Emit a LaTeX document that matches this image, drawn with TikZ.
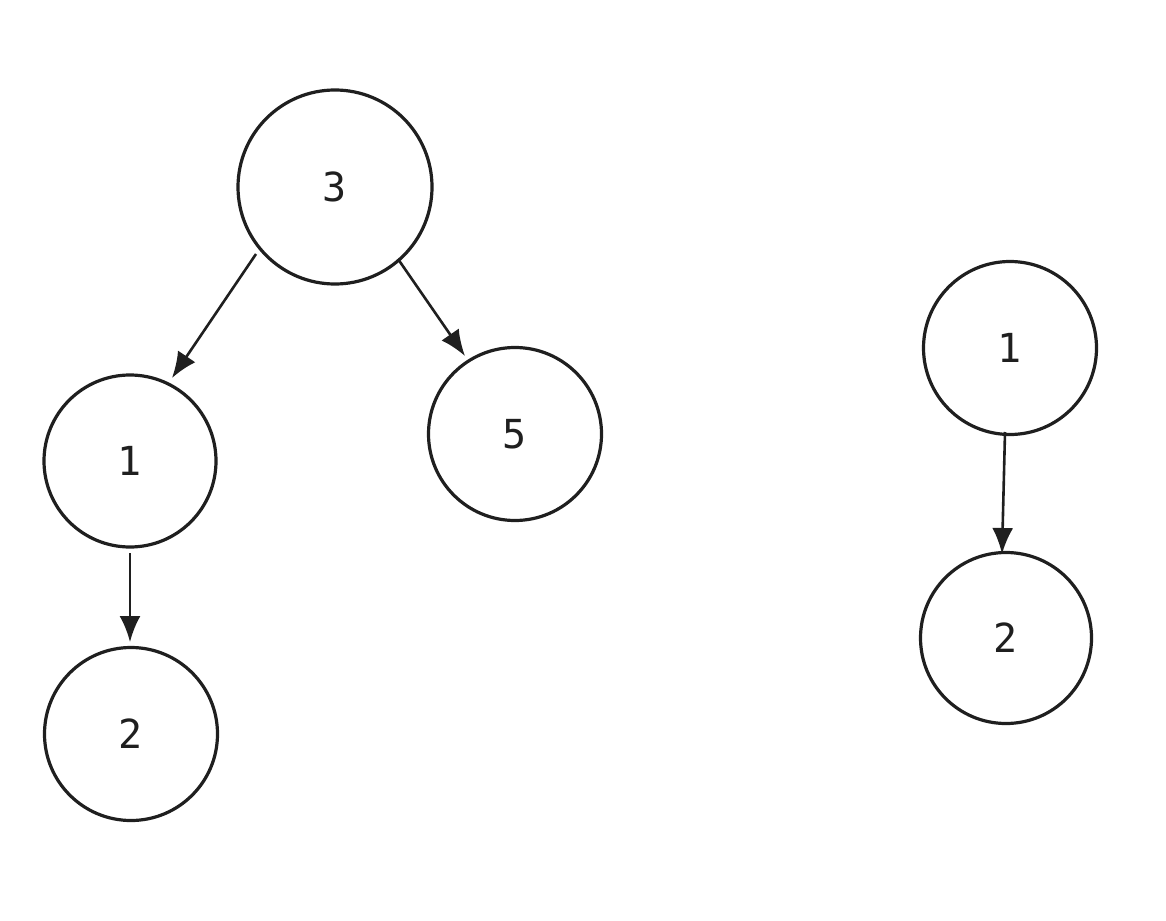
\documentclass[tikz,border=0pt]{standalone}
\usepackage{fontspec}
\setmonofont{DejaVu Sans Mono}
\usetikzlibrary{arrows.meta,calc}
\begin{document}
\begin{tikzpicture}[x=1pt,y=-1pt,
  treenode/.style={circle,draw=black!88,line width=3.2pt,inner sep=0pt,
    font=\ttfamily\fontsize{40}{42}\selectfont,text=black!88},
  edge/.style={draw=black!88,line width=2.6pt,-{Latex[length=26pt,width=21pt]}}]
\useasboundingbox (0,0) rectangle (1166,920);
\node[treenode,minimum size=194pt] (n3) at (335,187) {3};
\node[treenode,minimum size=172pt] (n1) at (130,461) {1};
\node[treenode,minimum size=173pt] (n5) at (515,434) {5};
\node[treenode,minimum size=173pt] (n2) at (131,734) {2};
\node[treenode,minimum size=173pt] (m1) at (1010,348) {1};
\node[treenode,minimum size=171pt] (m2) at (1006,638) {2};
\draw[edge] ($(n3)+(-79,67)$) -- ($(n1)+(42,-83)$);
\draw[edge] ($(n3)+(63,72)$) -- ($(n5)+(-50,-78)$);
\draw[edge] ($(n1)+(0,92)$) -- ($(n2)+(-1,-92)$);
\draw[edge] ($(m1)+(-5,84)$) -- ($(m2)+(-4,-84)$);
\end{tikzpicture}
\end{document}
